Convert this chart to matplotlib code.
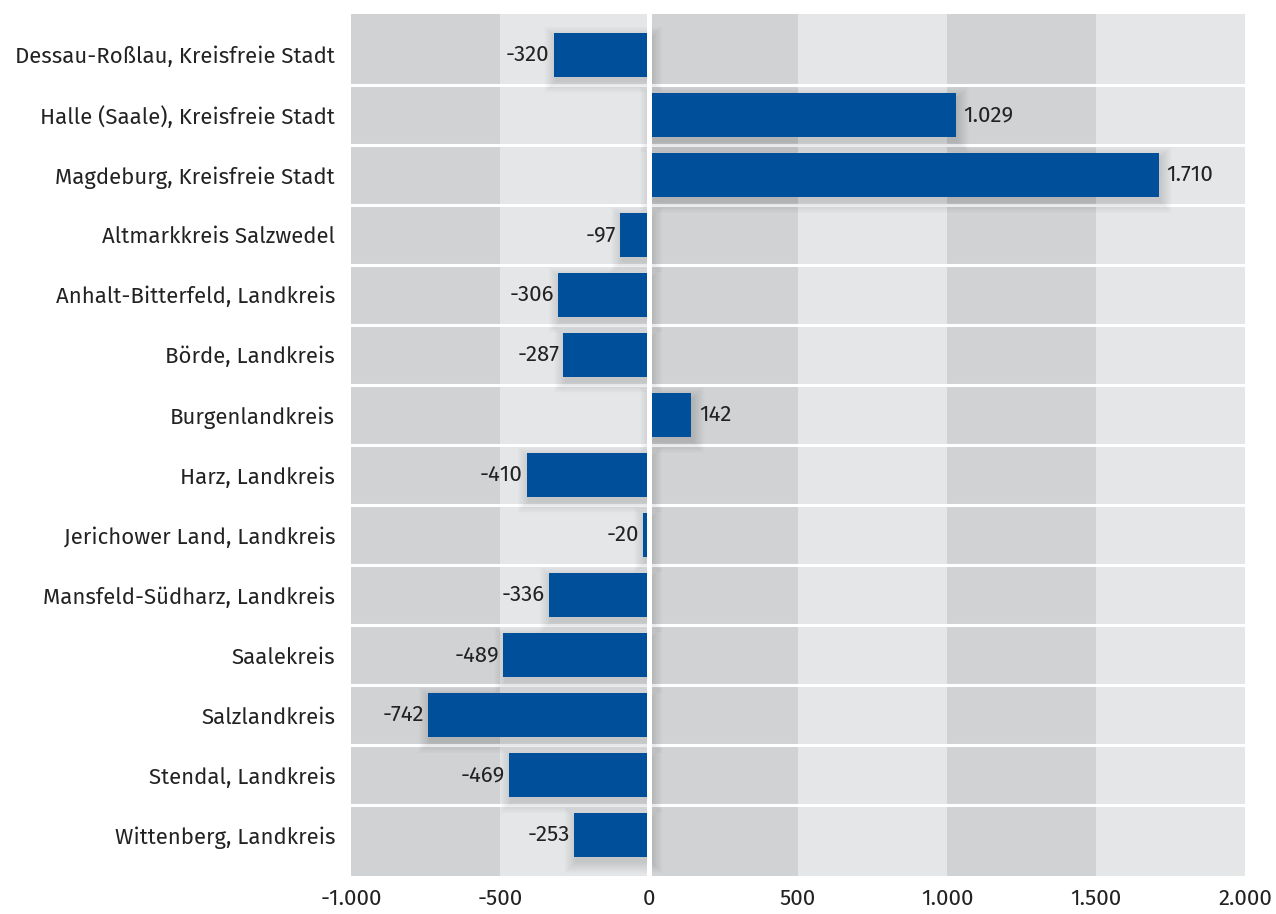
import numpy as np
import matplotlib.pyplot as plt
from matplotlib.patches import Rectangle

kreise = ["Dessau-Roßlau, Kreisfreie Stadt", "Halle (Saale), Kreisfreie Stadt",
          "Magdeburg, Kreisfreie Stadt", "Altmarkkreis Salzwedel",
          "Anhalt-Bitterfeld, Landkreis", "Börde, Landkreis", "Burgenlandkreis",
          "Harz, Landkreis", "Jerichower Land, Landkreis", "Mansfeld-Südharz, Landkreis",
          "Saalekreis", "Salzlandkreis", "Stendal, Landkreis", "Wittenberg, Landkreis"]
werte = [-320, 1029, 1710, -97, -306, -287, 142, -410, -20, -336, -489, -742, -469, -253]
ticks = [-1000, -500, 0, 500, 1000, 1500, 2000]

blau = "#004f9a"
dunkel = "#d1d2d4"
hell = "#e5e6e8"
txt = "#222222"

plt.rcParams['font.family'] = ['Fira Sans', 'Open Sans', 'DejaVu Sans']

def fmt(v):
    return f"{v:,.0f}".replace(",", ".")

fig = plt.figure(figsize=(12.76, 9.14), dpi=100)
ax = fig.add_axes([351 / 1276, 38 / 914, 894 / 1276, 862 / 914])

n = len(kreise)
ax.set_xlim(-1000, 2000)
ax.set_ylim(n - 0.5 + 0.18, -0.5 - 0.18)

# vertikale Streifen
for i in range(len(ticks) - 1):
    ax.axvspan(ticks[i], ticks[i + 1], color=dunkel if i % 2 == 0 else hell, lw=0, zorder=0)

# Zeilentrenner
for i in range(n - 1):
    ax.axhline(i + 0.5, color="white", lw=2.2, zorder=1)
ax.axvline(0, color="white", lw=3.6, zorder=5)

h = 0.73
y = np.arange(n)
px_x = 3000 / 894   # Dateneinheiten pro Pixel
px_y = 1 / 60
# weicher Schatten
for k in range(16):
    g = k * 0.75
    for yi, v in zip(y, werte):
        x0 = min(0, v)
        w = abs(v)
        ax.add_patch(Rectangle((x0 + (2 - g) * px_x, yi - h / 2 + (5 - g) * px_y),
                               w + 2 * g * px_x, h + 2 * g * px_y,
                               color="black", alpha=0.009, lw=0, zorder=2))

for yi, v in zip(y, werte):
    ax.barh(yi, v, height=h, color=blau, zorder=3)
    if v < 0:
        ax.text(v - 4 * px_x, yi, fmt(v), ha="right", va="center", fontsize=16, color=txt, zorder=6)
    else:
        ax.text(v + 8 * px_x, yi, fmt(v), ha="left", va="center", fontsize=16, color=txt, zorder=6)

ax.set_yticks(y)
ax.set_yticklabels(kreise, fontsize=16, color=txt)
ax.set_xticks(ticks)
ax.set_xticklabels([fmt(t) for t in ticks], fontsize=16, color=txt)
ax.tick_params(axis="x", length=0, pad=9)
ax.tick_params(axis="y", length=0, pad=11.5)
for s in ax.spines.values():
    s.set_visible(False)

fig.savefig("out.png", dpi=100, facecolor="white")
